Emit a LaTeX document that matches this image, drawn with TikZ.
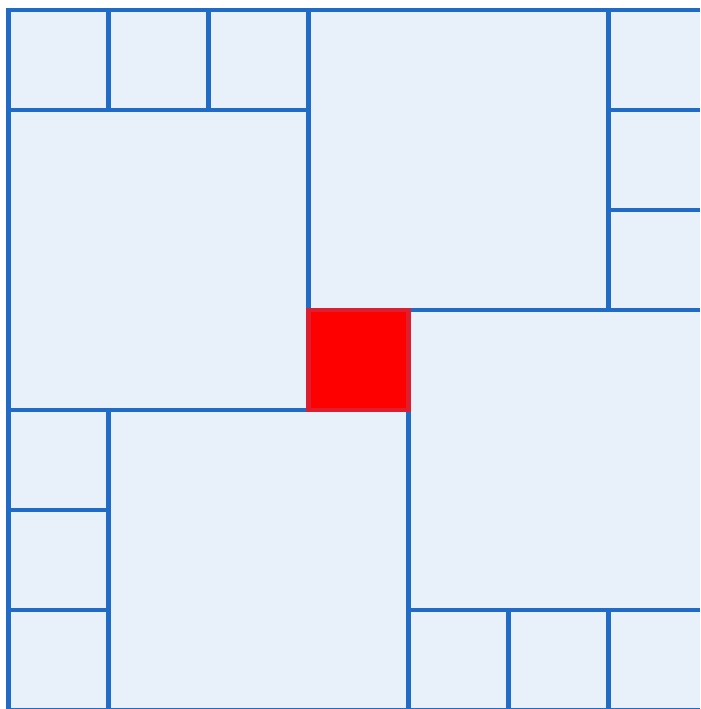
\documentclass[tikz,border=0pt]{standalone}
\definecolor{gridblue}{HTML}{1F6BC6}
\definecolor{cellfill}{HTML}{E8F0FA}
\definecolor{redfill}{HTML}{FF0000}
\definecolor{redline}{HTML}{DC1E2E}
\begin{document}
\begin{tikzpicture}[x=1cm,y=-1cm,
  cell/.style={draw=gridblue,line width=1.15pt,fill=cellfill},
  hot/.style={draw=redline,line width=1.15pt,fill=redfill}]
\useasboundingbox (0,0) rectangle (7,7.09);
\clip (0,0) rectangle (7,7.09);
\fill[white] (0,0) rectangle (7,7.09);
\begin{scope}[shift={(0.085,0.10)}]
\foreach \c/\r/\s in {0/0/1,1/0/1,2/0/1,3/0/3,6/0/1,6/1/1,6/2/1,0/1/3,4/3/3,0/4/1,0/5/1,0/6/1,1/4/3,4/6/1,5/6/1,6/6/1}
  \draw[cell] (\c,\r) rectangle ++(\s,\s);
\draw[hot] (3,3) rectangle ++(1,1);
\end{scope}
\end{tikzpicture}
\end{document}
